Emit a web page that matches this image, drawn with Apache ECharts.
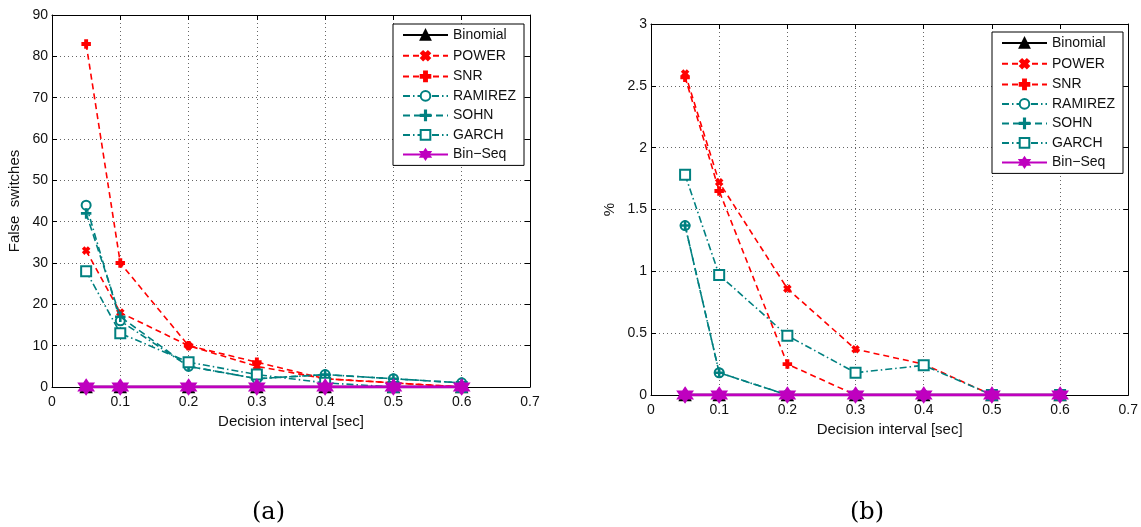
<!DOCTYPE html>
<html>
<head>
<meta charset="utf-8">
<script src="https://cdn.jsdelivr.net/npm/echarts@6/dist/echarts.min.js"></script>
<style>html,body{margin:0;padding:0;background:#fff;}#c{width:1141px;height:527px;}</style>
</head>
<body>
<div id="c"></div>
<script>
const intervals = [0.05, 0.1, 0.2, 0.3, 0.4, 0.5, 0.6];
const seriesNames = ['Binomial', 'POWER', 'SNR', 'RAMIREZ', 'SOHN', 'GARCH', 'Bin\u2212Seq'];
// (a) False switches
const switchesBinomial = [0, 0, 0, 0, 0, 0, 0];
const switchesPower    = [33, 18, 10, 5, 2, 1, 0];
const switchesSnr      = [83, 30, 10, 6, 2, 1, 0];
const switchesRamirez  = [44, 16, 5, 2, 3, 2, 1];
const switchesSohn     = [42, 17, 5, 2, 3, 2, 1];
const switchesGarch    = [28, 13, 6, 3, 1, 0, 0];
const switchesBinSeq   = [0, 0, 0, 0, 0, 0, 0];
// (b) percent
const pctBinomial = [0, 0, 0, 0, 0, 0, 0];
const pctPower    = [2.6, 1.72, 0.86, 0.37, 0.25, 0, 0];
const pctSnr      = [2.57, 1.65, 0.25, 0, 0, 0, 0];
const pctRamirez  = [1.37, 0.18, 0, 0, 0, 0, 0];
const pctSohn     = [1.37, 0.18, 0, 0, 0, 0, 0];
const pctGarch    = [1.78, 0.97, 0.48, 0.18, 0.24, 0, 0];
const pctBinSeq   = [0, 0, 0, 0, 0, 0, 0];

const RED = '#ff0000', TEAL = '#008080', MAG = '#bf00bf';
const plusBold = 'path://M3.5,0 L6.5,0 L6.5,3.5 L10,3.5 L10,6.5 L6.5,6.5 L6.5,10 L3.5,10 L3.5,6.5 L0,6.5 L0,3.5 L3.5,3.5 Z';
const plusThin = 'path://M4.4,0 L5.6,0 L5.6,4.4 L10,4.4 L10,5.6 L5.6,5.6 L5.6,10 L4.4,10 L4.4,5.6 L0,5.6 L0,4.4 L4.4,4.4 Z';
const hexagram = 'path://M5,0 L9.33,7.5 L0.67,7.5 Z M5,10 L0.67,2.5 L9.33,2.5 Z';
const FONT = '"Liberation Sans", Arial, Helvetica, sans-serif';

const styles = [
  {color: '#000', type: 'solid', width: 2.5, symbol: 'triangle', size: 11, rotate: 0},
  {color: RED, type: [6, 4], width: 1.6, symbol: plusBold, size: 7, rotate: 45},
  {color: RED, type: [6, 4], width: 1.6, symbol: plusBold, size: 8, rotate: 0},
  {color: TEAL, type: [7, 3, 1.5, 3], width: 1.6, symbol: 'emptyCircle', size: 9, rotate: 0},
  {color: TEAL, type: [7, 4], width: 1.6, symbol: plusThin, size: 9, rotate: 0},
  {color: TEAL, type: [7, 3, 1.5, 3], width: 1.6, symbol: 'emptyRect', size: 10, rotate: 0},
  {color: MAG, type: 'solid', width: 3, symbol: hexagram, size: 15, rotate: 0}
];

function pairs(vals) { return intervals.map((x, i) => [x, vals[i]]); }

function makeSeries(dataList, axisIdx) {
  return dataList.map((vals, i) => {
    const s = styles[i];
    return {
      type: 'line', name: seriesNames[i], data: pairs(vals),
      xAxisIndex: axisIdx, yAxisIndex: axisIdx,
      symbol: s.symbol, symbolSize: s.size, symbolRotate: s.rotate, showAllSymbol: true,
      lineStyle: {color: s.color, type: s.type, width: s.width},
      itemStyle: {color: s.color, borderColor: s.color, borderWidth: 1.5},
      z: 2 + i, animation: false, silent: true
    };
  });
}

const switchesData = [switchesBinomial, switchesPower, switchesSnr, switchesRamirez, switchesSohn, switchesGarch, switchesBinSeq];
const pctData = [pctBinomial, pctPower, pctSnr, pctRamirez, pctSohn, pctGarch, pctBinSeq];

function xAx(gridIndex, pos, main) {
  return {
    type: 'value', gridIndex: gridIndex, position: pos, min: 0, max: 0.7, interval: 0.1,
    name: main ? 'Decision interval [sec]' : '', nameLocation: 'middle', nameGap: 25,
    nameTextStyle: {fontFamily: FONT, fontSize: 15, color: '#111'},
    axisLine: {show: true, onZero: false, lineStyle: {color: '#000', width: 1}},
    axisTick: {show: true, inside: true, length: 5, lineStyle: {color: '#000'}},
    axisLabel: {show: main, margin: 8, fontFamily: FONT, fontSize: 14, color: '#111'},
    splitLine: {show: main, lineStyle: {color: '#666', type: [1, 3], width: 1}}
  };
}
function yAx(gridIndex, pos, main, max, interval, name, gap) {
  return {
    type: 'value', gridIndex: gridIndex, position: pos, min: 0, max: max, interval: interval,
    name: main ? name : '', nameLocation: 'middle', nameGap: gap, nameRotate: 90,
    nameTextStyle: {fontFamily: FONT, fontSize: 15, color: '#111'},
    axisLine: {show: true, onZero: false, lineStyle: {color: '#000', width: 1}},
    axisTick: {show: true, inside: true, length: 5, lineStyle: {color: '#000'}},
    axisLabel: {show: main, margin: 4, fontFamily: FONT, fontSize: 14, color: '#111'},
    splitLine: {show: main, lineStyle: {color: '#666', type: [1, 3], width: 1}}
  };
}

function legend(left, top) {
  return {
    orient: 'vertical', left: left, top: top, data: seriesNames,
    backgroundColor: '#fff', borderColor: '#000', borderWidth: 1, borderRadius: 0,
    padding: [4, 8, 4, 9], itemWidth: 45, itemHeight: 12, itemGap: 5.5,
    textStyle: {fontFamily: FONT, fontSize: 14, color: '#111', lineHeight: 14},
    selectedMode: false
  };
}

const chart = echarts.init(document.getElementById('c'), null, {renderer: 'canvas'});
chart.setOption({
  animation: false,
  backgroundColor: '#fff',
  grid: [
    {left: 52, top: 15, width: 478, height: 372},
    {left: 651, top: 24, width: 478, height: 371}
  ],
  xAxis: [xAx(0, 'bottom', true), xAx(0, 'top', false), xAx(1, 'bottom', true), xAx(1, 'top', false)],
  yAxis: [yAx(0, 'left', true, 90, 10, 'False  switches', 30), yAx(0, 'right', false, 90, 10, '', 0),
          yAx(1, 'left', true, 3, 0.5, '%', 34), yAx(1, 'right', false, 3, 0.5, '', 0)],
  legend: [legend(393, 24), legend(992, 32)],
  series: makeSeries(switchesData, 0).concat(makeSeries(pctData, 2)),
  graphic: [
    {type: 'text', left: 252, top: 501, style: {text: '(a)', font: '24px "DejaVu Serif", "Liberation Serif", serif', fill: '#000'}},
    {type: 'text', left: 850, top: 501, style: {text: '(b)', font: '24px "DejaVu Serif", "Liberation Serif", serif', fill: '#000'}}
  ]
});
</script>
</body>
</html>
